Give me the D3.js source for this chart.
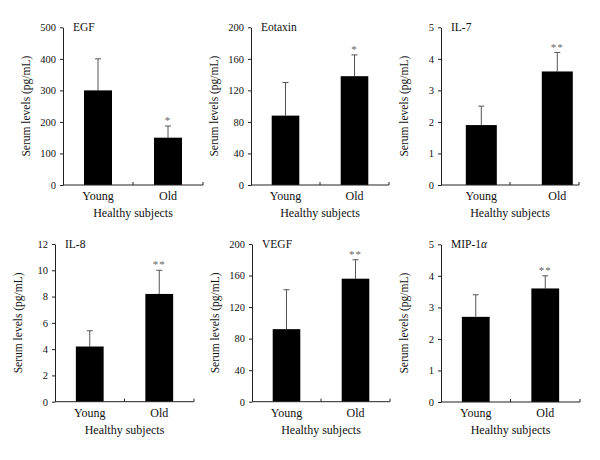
<!DOCTYPE html>
<html>
<head>
<meta charset="utf-8">
<script src="https://cdn.jsdelivr.net/npm/d3@7"></script>
<style>
  html, body { margin: 0; padding: 0; background: #fff; }
  svg { display: block; }
  text { font-family: "Liberation Serif", "Times New Roman", serif; fill: #111; }
</style>
</head>
<body>
<svg id="chart" width="600" height="460"></svg>
<script>
// ---- data ----
const panelNames = ["EGF", "Eotaxin", "IL-7", "IL-8", "VEGF", "MIP-1α"];
const groups = ["Young", "Old"];
const youngMean = [300, 88, 1.9, 4.2, 92, 2.7];
const youngSD   = [100, 42, 0.6, 1.2, 50, 0.7];
const oldMean   = [150, 138, 3.6, 8.2, 156, 3.6];
const oldSD     = [37, 27, 0.6, 1.8, 24, 0.4];
const youngSig  = ["", "", "", "", "", ""];
const oldSig    = ["*", "*", "**", "**", "**", "**"];
const yMax      = [500, 200, 5, 12, 200, 5];
const yTickStep = [100, 40, 1, 2, 40, 1];
const xTitle = "Healthy subjects";
const yTitle = "Serum levels (pg/mL)";

// ---- layout (positions only) ----
const layout = [
  {x0: 63,  x1: 203, y0: 185,   y1: 27.3},
  {x0: 251, x1: 389, y0: 185,   y1: 27.3},
  {x0: 441, x1: 579, y0: 185,   y1: 27.3, pi: 0.592, po: 0.204, align: 0.8},
  {x0: 55,  x1: 194, y0: 401.7, y1: 244},
  {x0: 252, x1: 390, y0: 401.7, y1: 244},
  {x0: 441, x1: 580, y0: 402,   y1: 244.3}
];

const svg = d3.select("#chart");
const axisColor = "#222";

panelNames.forEach((name, i) => {
  const L = layout[i];
  const g = svg.append("g");
  const x = d3.scaleBand().domain(groups).range([L.x0, L.x1])
    .paddingInner(L.pi ?? 0.6).paddingOuter(L.po ?? 0.3).align(L.align ?? 0.5);
  const y = d3.scaleLinear().domain([0, yMax[i]]).range([L.y0, L.y1]);

  const rows = [
    {g: "Young", m: youngMean[i], sd: youngSD[i], sig: youngSig[i]},
    {g: "Old",   m: oldMean[i],   sd: oldSD[i],   sig: oldSig[i]}
  ];

  // error bars (upper only)
  rows.forEach(r => {
    const cx = x(r.g) + x.bandwidth() / 2;
    g.append("line").attr("x1", cx).attr("x2", cx)
      .attr("y1", y(r.m)).attr("y2", y(r.m + r.sd))
      .attr("stroke", "#555").attr("stroke-width", 1);
    g.append("line").attr("x1", cx - 3).attr("x2", cx + 3)
      .attr("y1", y(r.m + r.sd)).attr("y2", y(r.m + r.sd))
      .attr("stroke", "#555").attr("stroke-width", 1);
    if (r.sig) {
      g.append("text").attr("x", cx).attr("y", y(r.m + r.sd) - 2)
        .attr("text-anchor", "middle").attr("font-size", 11)
        .style("fill", "#666").attr("letter-spacing", 1).text(r.sig);
    }
  });

  // bars
  g.selectAll("rect.bar").data(rows).join("rect")
    .attr("class", "bar")
    .attr("x", d => x(d.g)).attr("width", x.bandwidth())
    .attr("y", d => y(d.m)).attr("height", d => y(0) - y(d.m))
    .attr("fill", "#000");

  // y axis
  const yAxis = d3.axisLeft(y)
    .tickValues(d3.range(0, yMax[i] + yTickStep[i] / 2, yTickStep[i]))
    .tickSize(3).tickPadding(4).tickSizeOuter(0)
    .tickFormat(d3.format("d"));
  const ya = g.append("g").attr("transform", `translate(${L.x0},0)`).call(yAxis);
  ya.select(".domain").attr("stroke", axisColor);
  ya.selectAll(".tick line").attr("stroke", axisColor);
  ya.selectAll(".tick text").attr("font-size", 10.5)
    .style("font-family", "Liberation Serif, serif").style("fill", "#111");

  // x axis line with inner ticks at middle and end
  g.append("line").attr("x1", L.x0).attr("x2", L.x1)
    .attr("y1", L.y0).attr("y2", L.y0).attr("stroke", axisColor);
  [(L.x0 + L.x1) / 2, L.x1].forEach(tx => {
    g.append("line").attr("x1", tx).attr("x2", tx)
      .attr("y1", L.y0).attr("y2", L.y0 - 3).attr("stroke", axisColor);
  });
  // category labels
  groups.forEach(c => {
    g.append("text").attr("x", x(c) + x.bandwidth() / 2).attr("y", L.y0 + 15)
      .attr("text-anchor", "middle").attr("font-size", 12).text(c);
  });
  // x title
  g.append("text").attr("x", (L.x0 + L.x1) / 2).attr("y", L.y0 + 32)
    .attr("text-anchor", "middle").attr("font-size", 12).text(xTitle);
  // y title
  g.append("text")
    .attr("transform", `translate(${L.x0 - 33},${(L.y0 + L.y1) / 2}) rotate(-90)`)
    .attr("text-anchor", "middle").attr("font-size", 11.5).text(yTitle);

  // panel title
  const t = g.append("text").attr("x", L.x0 + 10).attr("y", L.y1 + 4)
    .attr("font-size", 11.5);
  if (name.endsWith("α")) {
    t.append("tspan").text(name.slice(0, -1));
    t.append("tspan").attr("font-style", "italic").text("α");
  } else {
    t.text(name);
  }
});
</script>
</body>
</html>
